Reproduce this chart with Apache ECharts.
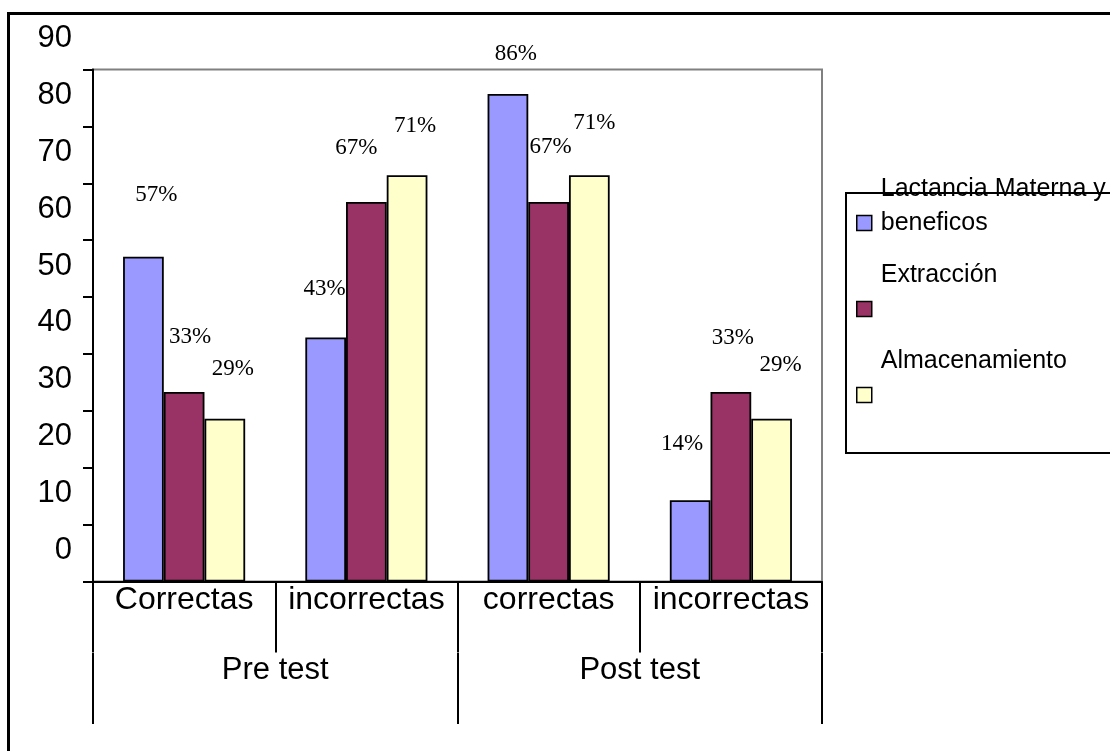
<!DOCTYPE html>
<html>
<head>
<meta charset="utf-8">
<script src="https://cdn.jsdelivr.net/npm/echarts@6/dist/echarts.min.js"></script>
<style>html,body{margin:0;padding:0;background:#fff}#c{width:1110px;height:751px}</style>
</head>
<body>
<div id="c"></div>
<script>
// ---- data ----
const categories = ['Correctas', 'incorrectas', 'correctas', 'incorrectas'];
const groups = ['Pre test', 'Post test'];
const seriesNames = ['Lactancia Materna y beneficos', 'Extracción', 'Almacenamiento'];
const legendLabels = ['Lactancia Materna y\nbeneficos\n', 'Extracción\n\n', 'Almacenamiento\n\n'];
const lactancia = [57.1, 42.9, 85.7, 14.3];
const extraccion = [33.3, 66.7, 66.7, 33.3];
const almacenamiento = [28.6, 71.4, 71.4, 28.6];
const yMin = 0, yMax = 90, yStep = 10;

// ---- styling ----
const colors = ['#9999FF', '#993366', '#FFFFCC'];
const values = [lactancia, extraccion, almacenamiento];
// label placement (distance above bar, horizontal shift) as in the original chart
const labelLift = [[50, 37, 29, 45], [44, 43, 44, 43], [38, 38, 41, 42]];
const labelShift = [[13, -1, 8, -8], [6, -10, 2, 2], [8, 8, 5, 9]];

const chart = echarts.init(document.getElementById('c'), null, {renderer: 'canvas'});

const series = values.map((d, i) => ({
  type: 'bar',
  name: seriesNames[i],
  data: d.map((v, j) => ({
    value: v,
    label: {distance: labelLift[i][j], offset: [labelShift[i][j], 0]}
  })),
  barGap: '0%',
  barCategoryGap: '33%',
  itemStyle: {color: colors[i], borderColor: '#000', borderWidth: 1.8},
  label: {
    show: true, position: 'top',
    formatter: p => Math.round(p.value) + '%',
    fontFamily: 'Liberation Serif', fontSize: 23, color: '#000'
  },
  emphasis: {disabled: true}
}));

const option = {
  animation: false,
  backgroundColor: '#fff',
  grid: {left: 93, right: 288, top: 69.5, bottom: 169.5, show: true, borderColor: '#808080', borderWidth: 2, outerBoundsMode: 'none', containLabel: false},
  xAxis: [
    {
      type: 'category', data: categories, position: 'bottom',
      axisLine: {lineStyle: {color: '#000', width: 2}},
      axisTick: {show: true, length: 71, alignWithLabel: false, lineStyle: {color: '#000', width: 2}},
      axisLabel: {interval: 0, margin: 3, fontFamily: 'Liberation Sans', fontSize: 32, color: '#000'},
      splitLine: {show: false}
    },
    {
      type: 'category', data: groups, position: 'bottom', offset: 71.5,
      axisLine: {show: false},
      axisTick: {show: true, length: 71, alignWithLabel: false, lineStyle: {color: '#000', width: 2}},
      axisLabel: {interval: 0, margin: 2, fontFamily: 'Liberation Sans', fontSize: 31, color: '#000'},
      splitLine: {show: false}
    }
  ],
  yAxis: {
    type: 'value', min: yMin, max: yMax, interval: yStep,
    axisLine: {show: true, lineStyle: {color: '#000', width: 2}},
    axisTick: {show: true, length: 10, lineStyle: {color: '#000', width: 2}},
    axisLabel: {
      margin: 21, fontFamily: 'Liberation Sans', fontSize: 31, lineHeight: 31, color: '#000',
      verticalAlign: 'bottom', padding: [0, 0, 15.5, 0],
      showMinLabel: true, showMaxLabel: true, hideOverlap: false
    },
    splitLine: {show: false}
  },
  legend: {
    orient: 'vertical', left: 856, top: 172, padding: 0,
    itemWidth: 15, itemHeight: 15, itemGap: -16,
    icon: 'rect', selectedMode: false,
    data: seriesNames,
    itemStyle: {borderColor: '#000', borderWidth: 1.5},
    formatter: name => legendLabels[seriesNames.indexOf(name)],
    textStyle: {fontFamily: 'Liberation Sans', fontSize: 25, lineHeight: 34, color: '#000', padding: [0, 0, 0, 4]}
  },
  graphic: [
    {type: 'rect', silent: true, z: -10, shape: {x: 8.5, y: 13.5, width: 1200, height: 800}, style: {fill: 'none', stroke: '#000', lineWidth: 3}},
    {type: 'rect', silent: true, z: -5, shape: {x: 846, y: 193, width: 300, height: 260}, style: {fill: '#fff', stroke: '#000', lineWidth: 2}}
  ],
  series: series
};
chart.setOption(option);
</script>
</body>
</html>
